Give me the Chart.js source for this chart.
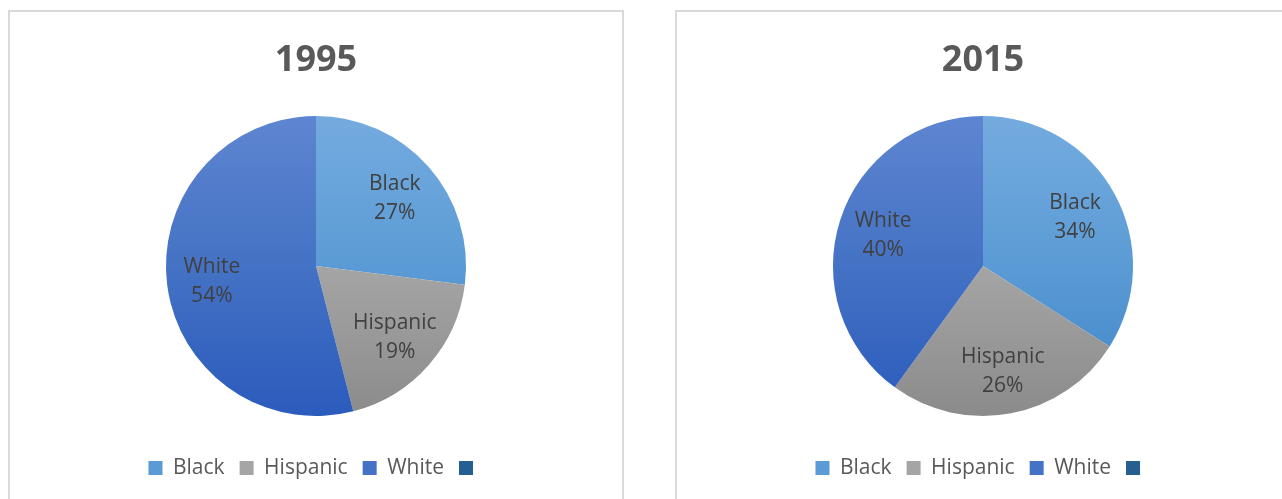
<!DOCTYPE html>
<html>
<head>
<meta charset="utf-8">
<script src="https://cdn.jsdelivr.net/npm/chart.js"></script>
<style>
  body { margin: 0; background: #fff; width: 1282px; height: 499px; overflow: hidden; position: relative; }
  .box { position: absolute; top: 10px; width: 612px; height: 520px; border: 2px solid #d9d9d9; }
  #box1 { left: 8px; }
  #box2 { left: 675px; }
  .holder { position: absolute; left: 0; top: 0; width: 612px; height: 487px; }
</style>
</head>
<body>
<div class="box" id="box1"><div class="holder"><canvas id="pie1995"></canvas></div></div>
<div class="box" id="box2"><div class="holder"><canvas id="pie2015"></canvas></div></div>
<script>
const categories = ["Black", "Hispanic", "White", ""]
const share1995 = [27, 19, 54, 0]
const share2015 = [34, 26, 40, 0]

// top / middle / bottom of the vertical gradient for each slice
const sliceShades = [
  ["#74abdf", "#5b9bd5", "#3d84c7"],
  ["#b6b6b6", "#a5a5a5", "#8b8b8b"],
  ["#5e85d1", "#4472c4", "#2b5bbd"],
  ["#3470aa", "#255e91", "#1b4c7a"],
]
const legendColors = ["#5b9bd5", "#a5a5a5", "#4472c4", "#255e91"]

const FONT = "'Open Sans', 'DejaVu Sans', sans-serif"
const PIE_SCALE = 0.85

function sliceFill(context) {
  const chart = context.chart
  const area = chart.chartArea
  const shades = sliceShades[context.dataIndex]
  if (!area) return shades[1]
  const cy = (area.top + area.bottom) / 2
  const r = Math.min(area.right - area.left, area.bottom - area.top) / 2 * PIE_SCALE
  const g = chart.ctx.createLinearGradient(0, cy - r, 0, cy + r)
  g.addColorStop(0, shades[0])
  g.addColorStop(0.5, shades[1])
  g.addColorStop(1, shades[2])
  return g
}

// two-line "Name / NN%" labels inside each slice
const sliceLabels = {
  id: "sliceLabels",
  afterDatasetsDraw(chart) {
    const ctx = chart.ctx
    const values = chart.data.datasets[0].data
    ctx.save()
    ctx.font = "21px " + FONT
    ctx.fillStyle = "#404040"
    ctx.textAlign = "center"
    ctx.textBaseline = "middle"
    chart.getDatasetMeta(0).data.forEach((arc, i) => {
      if (!values[i]) return
      const p = arc.getProps(["x", "y", "startAngle", "endAngle", "outerRadius"], true)
      const mid = (p.startAngle + p.endAngle) / 2
      const x = p.x + Math.cos(mid) * p.outerRadius * 0.7
      const y = p.y + Math.sin(mid) * p.outerRadius * 0.7 + 2
      ctx.fillText(chart.data.labels[i], x, y - 14.5)
      ctx.fillText(values[i] + "%", x, y + 14.5)
    })
    ctx.restore()
  },
}

function makePie(id, year, values) {
  return new Chart(document.getElementById(id), {
    type: "pie",
    data: {
      labels: categories,
      datasets: [
        {
          data: values,
          backgroundColor: sliceFill,
          borderWidth: 0,
          radius: PIE_SCALE * 100 + "%",
        },
      ],
    },
    options: {
      responsive: true,
      maintainAspectRatio: false,
      animation: false,
      layout: { padding: { bottom: 10.5 } },
      plugins: {
        title: {
          display: true,
          text: year,
          color: "#595959",
          font: { family: FONT, size: 36, weight: "bold" },
          padding: { top: 27, bottom: 7.3 },
        },
        legend: {
          position: "bottom",
          labels: {
            color: "#595959",
            font: { family: FONT, size: 21 },
            boxWidth: 14,
            boxHeight: 14,
            padding: 15,
            generateLabels: () =>
              categories.map((c, i) => ({
                text: c,
                fillStyle: legendColors[i],
                strokeStyle: legendColors[i],
                lineWidth: 0,
                index: i,
                fontColor: "#595959",
              })),
          },
        },
        tooltip: { enabled: false },
      },
    },
    plugins: [sliceLabels],
  })
}

makePie("pie1995", "1995", share1995)
makePie("pie2015", "2015", share2015)
</script>
</body>
</html>
